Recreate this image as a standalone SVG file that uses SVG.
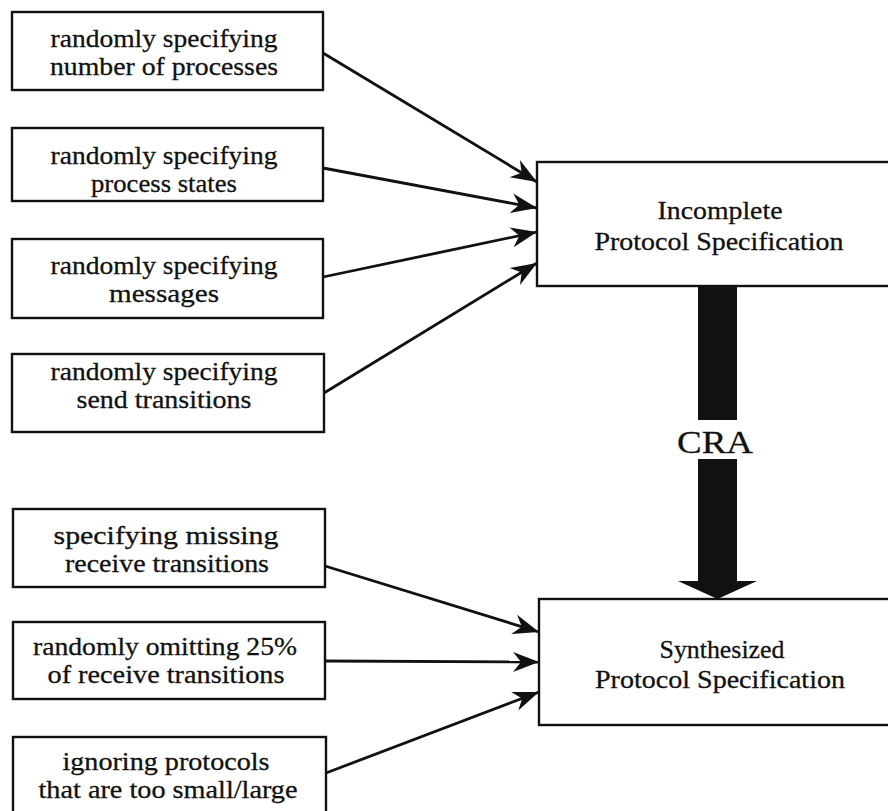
<svg xmlns="http://www.w3.org/2000/svg" width="888" height="811" viewBox="0 0 888 811">
  <style>
    .box { fill: #fff; stroke: #111; stroke-width: 2.4; }
    .lbl { font-family: "Liberation Serif", "Times New Roman", serif; font-size: 26px; fill: #111; stroke: #111; stroke-width: 0.3; text-anchor: middle; }
    .edge { fill: none; stroke: #111; stroke-width: 2.8; marker-end: url(#head); }
  </style>
  <defs>
    <marker id="head" markerUnits="userSpaceOnUse" viewBox="-28 -11 30 22" refX="0" refY="0" markerWidth="30" markerHeight="22" orient="auto">
      <path d="M0,0 L-26,-10 L-18,0 L-26,10 Z" fill="#111"/>
    </marker>
  </defs>
  <rect width="888" height="811" fill="#fff"/>

  <!-- generation steps -->
  <g id="n-processes">
    <rect class="box" x="12" y="12" width="311" height="78"/>
    <text class="lbl" x="164" y="47" textLength="227" lengthAdjust="spacingAndGlyphs">randomly specifying</text>
    <text class="lbl" x="164" y="75" textLength="228" lengthAdjust="spacingAndGlyphs">number of processes</text>
  </g>
  <g id="n-states">
    <rect class="box" x="12" y="128" width="311" height="73"/>
    <text class="lbl" x="164" y="164" textLength="227" lengthAdjust="spacingAndGlyphs">randomly specifying</text>
    <text class="lbl" x="164" y="192" textLength="146" lengthAdjust="spacingAndGlyphs">process states</text>
  </g>
  <g id="n-messages">
    <rect class="box" x="12" y="239" width="311" height="79"/>
    <text class="lbl" x="164" y="274" textLength="227" lengthAdjust="spacingAndGlyphs">randomly specifying</text>
    <text class="lbl" x="164" y="302" textLength="110" lengthAdjust="spacingAndGlyphs">messages</text>
  </g>
  <g id="n-send">
    <rect class="box" x="12" y="354" width="312" height="78"/>
    <text class="lbl" x="164" y="380" textLength="227" lengthAdjust="spacingAndGlyphs">randomly specifying</text>
    <text class="lbl" x="164" y="408" textLength="175" lengthAdjust="spacingAndGlyphs">send transitions</text>
  </g>

  <!-- synthesis options -->
  <g id="n-missing">
    <rect class="box" x="13" y="509" width="312" height="78"/>
    <text class="lbl" x="166" y="544" textLength="225" lengthAdjust="spacingAndGlyphs">specifying missing</text>
    <text class="lbl" x="167" y="572" textLength="204" lengthAdjust="spacingAndGlyphs">receive transitions</text>
  </g>
  <g id="n-omit">
    <rect class="box" x="13" y="622" width="312" height="77"/>
    <text class="lbl" x="165" y="655" textLength="264" lengthAdjust="spacingAndGlyphs">randomly omitting 25%</text>
    <text class="lbl" x="166" y="683" textLength="237" lengthAdjust="spacingAndGlyphs">of receive transitions</text>
  </g>
  <g id="n-ignore">
    <rect class="box" x="13" y="737" width="313" height="90"/>
    <text class="lbl" x="166" y="770" textLength="207" lengthAdjust="spacingAndGlyphs">ignoring protocols</text>
    <text class="lbl" x="168" y="798" textLength="259" lengthAdjust="spacingAndGlyphs">that are too small/large</text>
  </g>

  <!-- specifications -->
  <g id="n-incomplete">
    <rect class="box" x="537" y="162" width="370" height="124"/>
    <text class="lbl" x="720" y="219" textLength="125" lengthAdjust="spacingAndGlyphs">Incomplete</text>
    <text class="lbl" x="719" y="250" textLength="249" lengthAdjust="spacingAndGlyphs">Protocol Specification</text>
  </g>
  <g id="n-synthesized">
    <rect class="box" x="539" y="599" width="370" height="126"/>
    <text class="lbl" x="722" y="658" textLength="125" lengthAdjust="spacingAndGlyphs">Synthesized</text>
    <text class="lbl" x="720" y="688" textLength="250" lengthAdjust="spacingAndGlyphs">Protocol Specification</text>
  </g>

  <!-- connectors -->
  <g id="edges">
    <path class="edge" d="M323,53 L537,182"/>
    <path class="edge" d="M323,168 L537,208"/>
    <path class="edge" d="M323,277 L537,232"/>
    <path class="edge" d="M324,393 L537,263"/>
    <path class="edge" d="M325,566 L539,632"/>
    <path class="edge" d="M325,661 L539,662"/>
    <path class="edge" d="M326,773 L539,692"/>
  </g>

  <!-- CRA transformation arrow -->
  <g id="cra">
    <rect x="698" y="286" width="39" height="134" fill="#111"/>
    <rect x="698" y="459" width="39" height="123" fill="#111"/>
    <polygon points="678,581 757,581 717.5,599" fill="#111"/>
    <text x="715" y="453" font-family="Liberation Serif, Times New Roman, serif" font-size="32" fill="#111" stroke="#111" stroke-width="0.3" text-anchor="middle" textLength="76" lengthAdjust="spacingAndGlyphs">CRA</text>
  </g>
</svg>
